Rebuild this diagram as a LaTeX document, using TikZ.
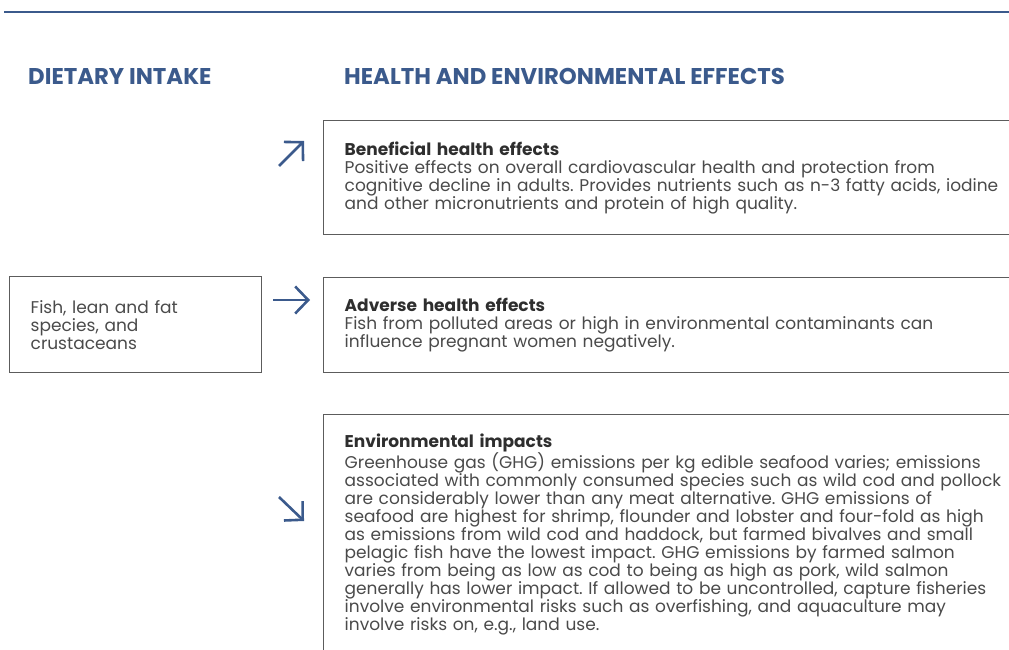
\documentclass[tikz,border=0pt]{standalone}
\usepackage{fontspec}
\setmainfont{Poppins}
\usetikzlibrary{arrows.meta}
\definecolor{headblue}{HTML}{3B5A8C}
\definecolor{framegray}{HTML}{5C5C5C}
\definecolor{bodygray}{HTML}{4A4A4A}
\definecolor{titlegray}{HTML}{2E2E2E}
\newcommand{\boxtitle}[1]{{\color{titlegray}\fontseries{sb}\selectfont #1}}
\frenchspacing
\begin{document}
\begin{tikzpicture}[
  x=1pt, y=-1pt,
  font=\fontsize{17}{18}\selectfont,
  heading/.style={anchor=base west, inner sep=0pt, text=headblue,
                  font=\fontsize{22.8}{24}\selectfont\bfseries},
  effect/.style={draw=framegray, line width=1.4pt, anchor=north west,
                 text width=720pt, align=left, inner xsep=21pt, inner ysep=0pt,
                 text=bodygray},
  intake/.style={draw=framegray, line width=1.4pt, anchor=north west,
                 minimum width=252pt, minimum height=96pt, text width=210pt,
                 align=left, inner xsep=21pt, inner ysep=0pt, text=bodygray},
  trend/.style={-{Straight Barb[length=13pt, width=27pt]}, draw=headblue,
                line width=2.6pt}
]
  \useasboundingbox (0,0) rectangle (1009,650);
  \clip (0,0) rectangle (1009,650);
  % top rule
  \coordinate (ruleL) at (4,12);
  \coordinate (ruleR) at (1009,12);
  \draw[headblue, line width=2.6pt] (ruleL) -- (ruleR);
  % column headings
  \node[heading] (diet) at (28,85) {DIETARY INTAKE};
  \node[heading] (effects) at (344,85) {HEALTH AND ENVIRONMENTAL EFFECTS};
  % boxes
  \node[intake] (fish) at (9,276) {Fish, lean and fat\\species, and\\crustaceans};
  \node[effect, minimum height=114pt] (benefit) at (323,120)
    {\boxtitle{Beneficial health effects}\\
     Positive effects on overall cardiovascular health and protection from\\
     cognitive decline in adults. Provides nutrients such as n-3 fatty acids, iodine\\
     and other micronutrients and protein of high quality.};
  \node[effect, minimum height=95pt] (adverse) at (323,277)
    {\boxtitle{Adverse health effects}\\
     Fish from polluted areas or high in environmental contaminants can\\
     influence pregnant women negatively.};
  \node[effect, minimum height=240pt] (enviro) at (323,414)
    {\boxtitle{Environmental impacts}\\
     Greenhouse gas (GHG) emissions per kg edible seafood varies; emissions\\
     associated with commonly consumed species such as wild cod and pollock\\
     are considerably lower than any meat alternative. GHG emissions of\\
     seafood are highest for shrimp, flounder and lobster and four-fold as high\\
     as emissions from wild cod and haddock, but farmed bivalves and small\\
     pelagic fish have the lowest impact. GHG emissions by farmed salmon\\
     varies from being as low as cod to being as high as pork, wild salmon\\
     generally has lower impact. If allowed to be uncontrolled, capture fisheries\\
     involve environmental risks such as overfishing, and aquaculture may\\
     involve risks on, e.g., land use.};
  % trend arrows
  \coordinate (upT) at (279,166);
  \coordinate (upH) at (304,141);
  \coordinate (midT) at (273,300);
  \coordinate (midH) at (310,300);
  \coordinate (downT) at (279,497);
  \coordinate (downH) at (304,521);
  \draw[trend] (upT) -- (upH);
  \draw[trend] (midT) -- (midH);
  \draw[trend] (downT) -- (downH);
\end{tikzpicture}
\end{document}
